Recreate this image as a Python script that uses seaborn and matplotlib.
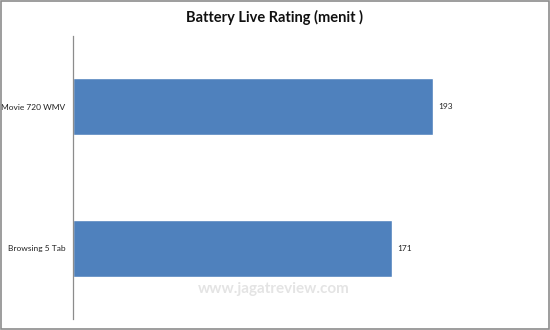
import matplotlib
matplotlib.use("Agg")
import matplotlib.pyplot as plt
import seaborn as sns
import pandas as pd
from matplotlib.patches import Rectangle

categories = ["Movie 720 WMV", "Browsing 5 Tab"]
values = [193, 171]
title = "Battery Live Rating (menit )"
watermark = "www.jagatreview.com"

df = pd.DataFrame({"cat": categories, "val": values})

sns.set_theme(style="white")
plt.rcParams['font.family'] = ['Lato', 'DejaVu Sans']

fig = plt.figure(figsize=(5.5, 3.3), dpi=100)
ax = fig.add_axes([73/550, 1 - 319/330, (539-73)/550, (319-36)/330])

sns.barplot(data=df, y="cat", x="val", orient="h", color="#4F81BD",
            width=0.4, saturation=1, ax=ax)
ax.set_xlim(0, 250)
ax.set_ylim(1.5, -0.5)
ax.set_xlabel("")
ax.set_ylabel("")
ax.set_xticks([])
for s in ["top", "right", "bottom"]:
    ax.spines[s].set_visible(False)
ax.spines["left"].set_color("#8c8c8c")
ax.spines["left"].set_linewidth(0.9)
ax.tick_params(axis="y", length=0, pad=5.5, labelsize=6, labelcolor="#222222")

for i, v in enumerate(values):
    ax.text(v + 3.2, i, str(v), va="center", ha="left", fontsize=6, color="#222222")

fig.text(0.5, 1 - 17/330, title, ha="center", va="center", fontsize=10.5,
         fontweight="bold", color="#111111")
fig.text(274/550, 1 - 289/330, watermark, ha="center", va="center", fontsize=11,
         fontweight="bold", color="#e4e4e4", zorder=5)

fig.patches.append(Rectangle((0.001, 0.004), 0.997, 0.994, transform=fig.transFigure,
                             fill=False, edgecolor="#8c8c8c", linewidth=1.2))

fig.savefig("out.png", dpi=100, facecolor="white")
